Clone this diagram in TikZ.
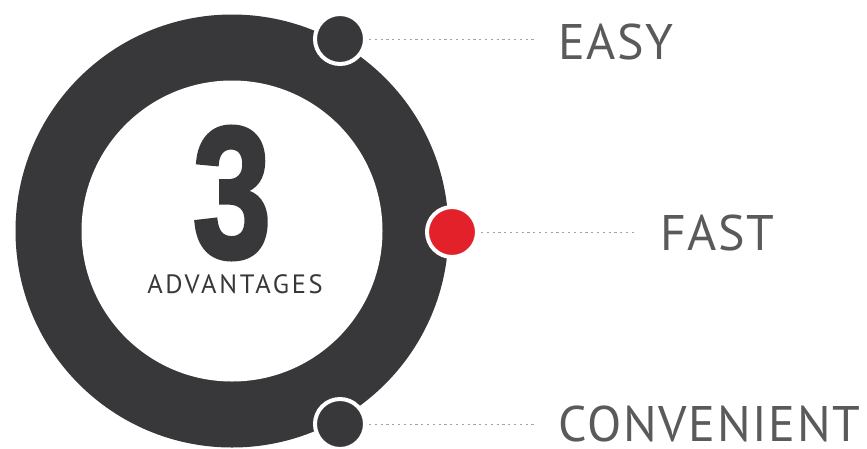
\documentclass[tikz,border=0pt]{standalone}
\usepackage{fontspec}
\usepackage{graphicx}
\setmainfont{PT Sans}
\newfontfamily\tagfont{PT Sans}[LetterSpace=3.4]
\newfontfamily\advfont{PT Sans}[LetterSpace=10]
\newfontfamily\numfont{Liberation Sans}[FakeBold=2.5]
\usetikzlibrary{calc}
\usetikzlibrary{positioning}

\definecolor{ringgray}{HTML}{38383A}
\definecolor{dotred}{HTML}{E2212A}
\definecolor{textgray}{HTML}{5A5A5A}
\definecolor{leadgray}{HTML}{A3A3A3}

\tikzset{
  dot/.style={circle, fill=ringgray, draw=white, line width=4pt,
    minimum size=50pt, inner sep=0pt},
  leader/.style={draw=leadgray, line width=0.9pt,
    dash pattern=on 2.2pt off 3.6pt, shorten <=2pt, shorten >=23pt},
  tag/.style={anchor=west, inner sep=0pt, text=textgray,
    font=\tagfont\fontsize{50}{50}\selectfont}
}

\begin{document}
\begin{tikzpicture}[x=1pt, y=-1pt]
  \useasboundingbox (0, 0) rectangle (867, 448);
  \clip (0, 0) rectangle (867, 448);
  \fill[white] (0, 0) rectangle (867, 448);

  \coordinate (hub) at (232, 231);
  \fill[ringgray] (hub) circle (216.5);
  \fill[white] (hub) circle (150.5);

  \node[text=ringgray, inner sep=0pt] (three) at (232, 193)
    {\resizebox{78pt}{130pt}{\numfont\bfseries 3}};
  \node[text=ringgray, inner sep=0pt, font=\advfont\fontsize{26.5}{27}\selectfont]
    (adv) at (235, 284) {ADVANTAGES};

  \node[dot] (easy) at (340, 39) {};
  \node[dot, fill=dotred] (fast) at (452, 232) {};
  \node[dot] (conv) at (340, 424) {};

  \node[tag] (easy-txt) at (558, 42) {EASY};
  \node[tag] (fast-txt) at (660, 233) {FAST};
  \node[tag] (conv-txt) at (558, 424) {CONVENIENT};

  \draw[leader] (easy) -- (easy -| easy-txt.west);
  \draw[leader] (fast) -- (fast -| fast-txt.west);
  \draw[leader] (conv) -- (conv -| conv-txt.west);
\end{tikzpicture}
\end{document}
